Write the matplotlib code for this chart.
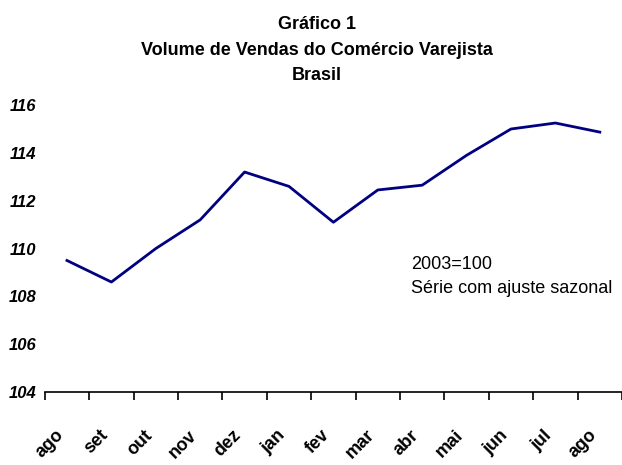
import matplotlib
matplotlib.use("Agg")
import matplotlib.pyplot as plt

# Volume de vendas do comercio varejista, Brasil (2003=100)
meses = ["ago", "set", "out", "nov", "dez", "jan", "fev",
         "mar", "abr", "mai", "jun", "jul", "ago"]
volume = [109.5, 108.6, 110.0, 111.2, 113.2, 112.6, 111.1,
          112.45, 112.65, 113.9, 115.0, 115.25, 114.87]
yticks = [104, 106, 108, 110, 112, 114, 116]

plt.rcParams['font.family'] = ['Liberation Sans', 'DejaVu Sans']

fig = plt.figure(figsize=(6.22, 4.65), dpi=100)
ax = fig.add_axes([0.072, 0.157, 0.928, 0.617])

x = range(len(meses))
ax.plot(x, volume, color="#000080", linewidth=2)

ax.set_xlim(-0.5, len(meses) - 0.5)
ax.set_ylim(104, 116)
ax.set_yticks(yticks)
ax.set_yticklabels([str(v) for v in yticks], fontsize=12,
                   fontweight="bold", style="italic")
ax.tick_params(axis="y", length=0, pad=6)

ax.set_xticks([i - 0.5 for i in range(len(meses) + 1)], minor=False)
ax.set_xticklabels([])
ax.set_xticks(list(x), minor=True)
ax.set_xticklabels(meses, minor=True, rotation=45, fontsize=13,
                   fontweight="bold", ha="right", va="top")
ax.tick_params(axis="x", which="major", direction="out", length=6, width=1.2)
ax.tick_params(axis="x", which="minor", length=0, pad=25)

for s in ["top", "right", "left"]:
    ax.spines[s].set_visible(False)
ax.spines["bottom"].set_linewidth(1.2)

fig.text(0.51, 0.965, "Gráfico 1\nVolume de Vendas do Comércio Varejista\nBrasil",
         ha="center", va="top", fontsize=13, fontweight="bold", linespacing=1.65)

ax.text(0.635, 0.475, "2003=100\nSérie com ajuste sazonal", transform=ax.transAxes,
        fontsize=13, va="top", ha="left", linespacing=1.55)

fig.savefig("out.png", dpi=100)
